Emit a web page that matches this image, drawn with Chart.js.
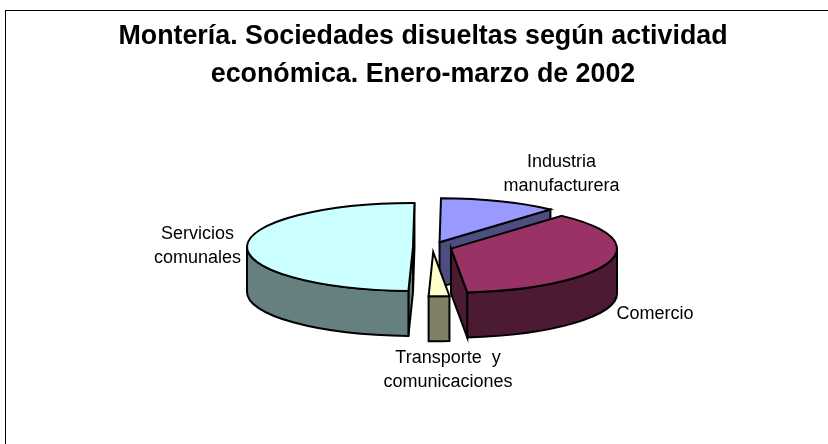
<!DOCTYPE html>
<html>
<head>
<meta charset="utf-8">
<title>Montería</title>
<script src="https://cdn.jsdelivr.net/npm/chart.js@4"></script>
<style>
  html, body { margin: 0; padding: 0; background: #fff; overflow: hidden; }
  canvas { display: block; }
</style>
</head>
<body>
<canvas id="pie3d" width="828" height="444"></canvas>
<script>
  // ===== Data =====
  const categories = ["Industria manufacturera", "Comercio", "Transporte y comunicaciones", "Servicios comunales"];
  const shares = [11.5, 36.8, 2.0, 49.7];
  const titleLines = ["Montería. Sociedades disueltas según actividad", "económica. Enero-marzo de 2002"];

  // ===== Styles & layout =====
  const topColors = ["#9999FF", "#993366", "#FFFFCC", "#CCFFFF"];
  const wallColors = ["#4D4D80", "#4D1A33", "#808066", "#668080"];
  const labelLines = [["Industria", "manufacturera"], ["Comercio"], ["Transporte  y", "comunicaciones"], ["Servicios", "comunales"]];
  const labelSpots = [[561.5, 162], [655, 314], [448, 358.5], [197.5, 234]];
  const drawOrder = [0, 3, 1, 2]; // back to front
  const pieCx = 432.5, pieCy = 247, flatten = 44 / 166, depth = 45;

  function sliceGeometry(arc) {
    const { startAngle, endAngle, outerRadius } = arc.getProps(['startAngle', 'endAngle', 'outerRadius'], true);
    const mid = (startAngle + endAngle) / 2;
    const off = arc.options.offset;
    return {
      a0: startAngle, a1: endAngle, rx: outerRadius, ry: outerRadius * flatten,
      cx: pieCx + Math.cos(mid) * off,
      cy: pieCy + Math.sin(mid) * off * flatten
    };
  }

  function paint(ctx, fill) {
    ctx.fillStyle = fill;
    ctx.fill();
    ctx.stroke();
  }

  function drawCutFace(ctx, s, angle, fill) {
    const x = s.cx + Math.cos(angle) * s.rx;
    const y = s.cy + Math.sin(angle) * s.ry;
    ctx.beginPath();
    ctx.moveTo(s.cx, s.cy);
    ctx.lineTo(x, y);
    ctx.lineTo(x, y + depth);
    ctx.lineTo(s.cx, s.cy + depth);
    ctx.closePath();
    paint(ctx, fill);
  }

  function drawSlice(ctx, s, i) {
    // faces looking at the viewer first, top face last
    if (Math.cos(s.a0) < 0) drawCutFace(ctx, s, s.a0, wallColors[i]);
    if (Math.cos(s.a1) > 0) drawCutFace(ctx, s, s.a1, wallColors[i]);

    const from = Math.max(s.a0, 0), to = Math.min(s.a1, Math.PI);
    if (from < to) {
      ctx.beginPath();
      ctx.ellipse(s.cx, s.cy, s.rx, s.ry, 0, from, to);
      ctx.ellipse(s.cx, s.cy + depth, s.rx, s.ry, 0, to, from, true);
      ctx.closePath();
      paint(ctx, wallColors[i]);
    }

    ctx.beginPath();
    ctx.moveTo(s.cx, s.cy);
    ctx.ellipse(s.cx, s.cy, s.rx, s.ry, 0, s.a0, s.a1);
    ctx.closePath();
    paint(ctx, topColors[i]);
  }

  const pie3dPlugin = {
    id: 'pie3d',
    beforeDraw(chart) {
      const ctx = chart.ctx;
      ctx.save();
      ctx.fillStyle = '#fff';
      ctx.fillRect(0, 0, chart.width, chart.height);
      ctx.strokeStyle = '#000';
      ctx.lineWidth = 1;
      ctx.strokeRect(5.5, 10.5, 900, 600); // right and bottom edges fall outside the picture
      ctx.restore();
    },
    beforeDatasetsDraw(chart) {
      const ctx = chart.ctx;
      const arcs = chart.getDatasetMeta(0).data;
      ctx.save();
      ctx.strokeStyle = '#000';
      ctx.lineWidth = 2;
      ctx.lineJoin = 'miter';
      ctx.miterLimit = 12;
      drawOrder.forEach(i => drawSlice(ctx, sliceGeometry(arcs[i]), i));

      ctx.fillStyle = '#000';
      ctx.font = '18px "Liberation Sans"';
      ctx.textAlign = 'center';
      ctx.textBaseline = 'middle';
      labelLines.forEach((lines, i) => {
        lines.forEach((line, n) => ctx.fillText(line, labelSpots[i][0], labelSpots[i][1] + n * 24));
      });
      ctx.restore();
      return false; // the flat pie is not wanted
    }
  };

  new Chart(document.getElementById('pie3d'), {
    type: 'pie',
    data: {
      labels: categories,
      datasets: [{
        data: shares,
        backgroundColor: topColors,
        offset: 19.5,
        radius: 166,
        rotation: 0.5
      }]
    },
    options: {
      responsive: false,
      animation: false,
      layout: { padding: { left: 18 } },
      plugins: {
        legend: { display: false },
        tooltip: { enabled: false },
        title: {
          display: true,
          text: titleLines,
          color: '#000',
          font: { family: '"Liberation Sans"', size: 26.8, weight: 'bold', lineHeight: 1.42 },
          padding: { top: 18, bottom: 0 }
        }
      }
    },
    plugins: [pie3dPlugin]
  });
</script>
</body>
</html>
